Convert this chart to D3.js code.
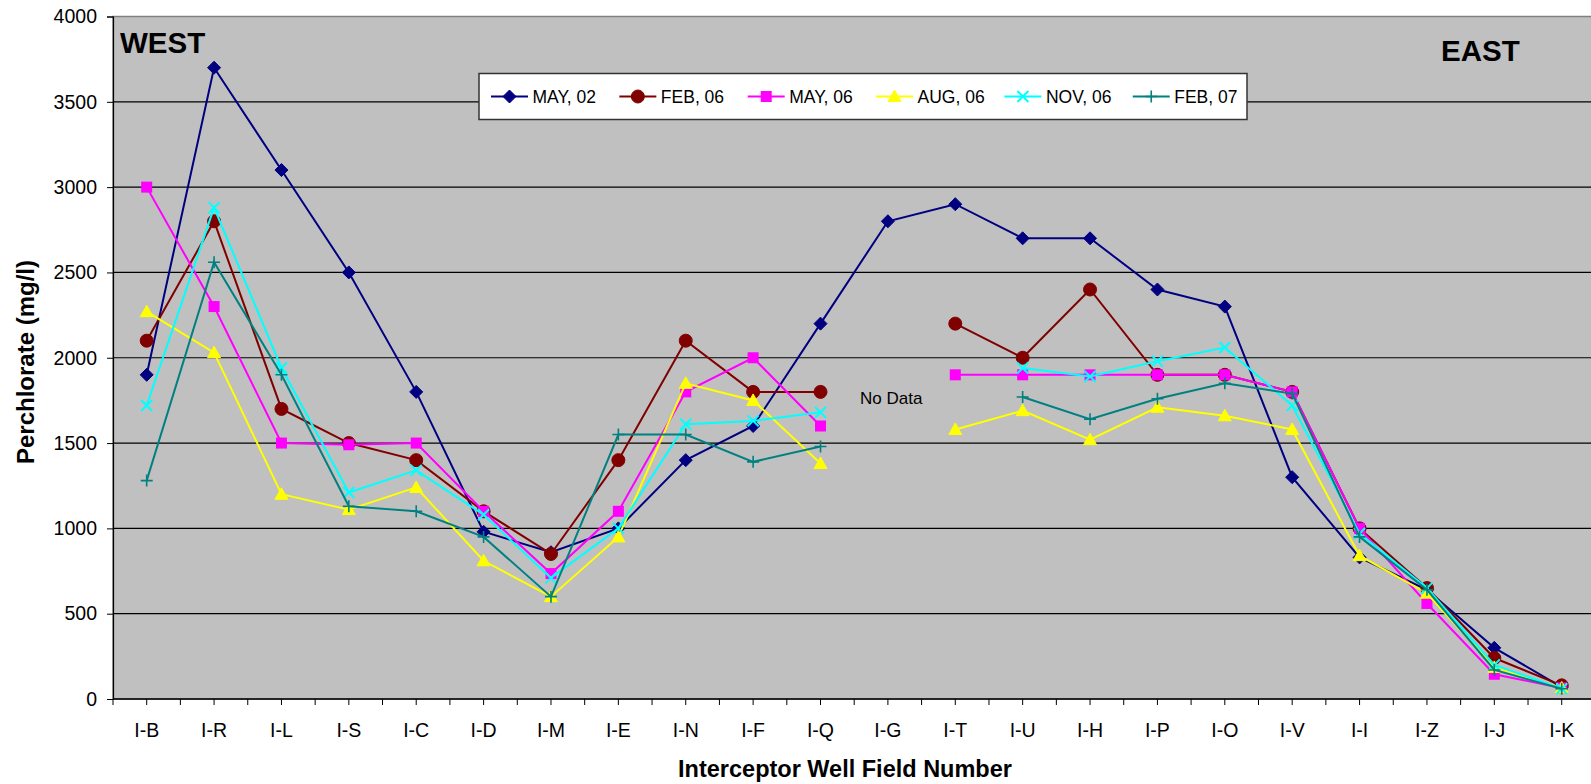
<!DOCTYPE html>
<html>
<head>
<meta charset="utf-8">
<title>Perchlorate by interceptor well field</title>
<script src="https://cdn.jsdelivr.net/npm/d3@7/dist/d3.min.js"></script>
<style>
	body { margin:0; background:#fff; }
	svg text { font-family: Arial, "Liberation Sans", sans-serif; }
</style>
</head>
<body>
<div id="div_Chart"></div>
<script>
//=======================================================================
// chart data (mg/l)
var a_categories = ["I-B","I-R","I-L","I-S","I-C","I-D","I-M","I-E","I-N","I-F","I-Q",
					"I-G","I-T","I-U","I-H","I-P","I-O","I-V","I-I","I-Z","I-J","I-K"];

var a_may02 = [1900,3700,3100,2500,1800, 980, 860,1000,1400,1600,2200,
			   2800,2900,2700,2700,2400,2300,1300, 830, 640, 300,  70];
var a_feb06 = [2100,2800,1700,1500,1400,1100, 850,1400,2100,1800,1800,
			   null,2200,2000,2400,1900,1900,1800,1000, 650, 240,  80];
var a_may06 = [3000,2300,1500,1490,1500,1100, 735,1100,1800,2000,1600,
			   null,1900,1900,1900,1900,1900,1800,1000, 560, 145,  65];
var a_aug06 = [2270,2030,1200,1110,1240, 810, 600, 950,1850,1750,1380,
			   null,1580,1690,1520,1710,1660,1580, 840, 620, 185,  65];
var a_nov06 = [1720,2880,1940,1210,1340,1080, 710,1000,1610,1630,1680,
			   null,null,1940,1890,1980,2060,1720, 970, 650, 200,  60];
var a_feb07 = [1280,2560,1900,1130,1100, 950, 600,1550,1550,1390,1480,
			   null,null,1770,1640,1760,1850,1790, 950, 640, 170,  60];

var a_seriesNames = ["MAY, 02","FEB, 06","MAY, 06","AUG, 06","NOV, 06","FEB, 07"];
var a_seriesData  = [a_may02, a_feb06, a_may06, a_aug06, a_nov06, a_feb07];
var a_yTicks = [0,500,1000,1500,2000,2500,3000,3500,4000];

//----------------------------------------------------------------------
// look of each series, same order as a_seriesNames
var a_style = [
	{color:"#000080", marker:"diamond"},
	{color:"#800000", marker:"circle"},
	{color:"#FF00FF", marker:"square"},
	{color:"#FFFF00", marker:"triangle"},
	{color:"#00FFFF", marker:"cross"},
	{color:"#008080", marker:"plus"}
];

var v_W = 1591, v_H = 784;
var v_Plot = {left:113, top:16.5, bottom:699, right:1595.4};

var v_Svg = d3.select("#div_Chart")
				.append("svg")
				.attr("width", v_W)
				.attr("height", v_H);

var x = d3.scaleBand()
			.domain(a_categories)
			.range([v_Plot.left, v_Plot.right])
			.padding(0);
var y = d3.scaleLinear()
			.domain([0,4000])
			.range([v_Plot.bottom, v_Plot.top]);

function f_cx(d){ return x(d) + x.bandwidth()/2; }

f_drawFrame();
f_drawSeries();
f_drawLegend();
f_drawLabels();

//----------------------------------------------------------------------
function f_drawFrame()
{
	v_Svg.append("rect")
			.attr("x", v_Plot.left)
			.attr("y", v_Plot.top)
			.attr("width", v_Plot.right - v_Plot.left)
			.attr("height", v_Plot.bottom - v_Plot.top)
			.attr("fill", "#C0C0C0")
			.attr("stroke", "#808080")
			.attr("stroke-width", 1.5);

	// horizontal grid
	v_Svg.append("g")
			.selectAll("line")
			.data(a_yTicks.filter(function(t){ return t > 0 && t < 4000; }))
			.enter()
				.append("line")
				.attr("x1", v_Plot.left)
				.attr("x2", v_Plot.right)
				.attr("y1", function(d){ return y(d); })
				.attr("y2", function(d){ return y(d); })
				.attr("stroke", "#000")
				.attr("stroke-width", 1.2);

	// y axis
	var gY = v_Svg.append("g")
				.attr("transform", "translate(" + v_Plot.left + ",0)")
				.call(d3.axisLeft(y).tickValues(a_yTicks).tickSize(6).tickPadding(10).tickFormat(d3.format("d")));
	gY.select(".domain").attr("stroke", "#000").attr("stroke-width", 1.2);
	gY.selectAll(".tick line").attr("stroke", "#000");
	gY.selectAll(".tick text")
		.attr("font-size", "19.5px")
		.attr("fill", "#000")
		.attr("font-family", "Arial, 'Liberation Sans', sans-serif");

	// x axis: ticks at category edges and centres, labels at centres
	var a_halfTicks = [];
	for (var i=0; i<a_categories.length; i++)
	{
		a_halfTicks.push(x(a_categories[i]));
		a_halfTicks.push(f_cx(a_categories[i]));
	}
	v_Svg.append("line")
			.attr("x1", v_Plot.left).attr("x2", v_Plot.right)
			.attr("y1", v_Plot.bottom).attr("y2", v_Plot.bottom)
			.attr("stroke", "#000")
			.attr("stroke-width", 1.5);
	v_Svg.append("g")
			.selectAll("line")
			.data(a_halfTicks)
			.enter()
				.append("line")
				.attr("x1", function(d){ return d; })
				.attr("x2", function(d){ return d; })
				.attr("y1", v_Plot.bottom)
				.attr("y2", v_Plot.bottom + 6)
				.attr("stroke", "#000");
	v_Svg.append("g")
			.selectAll("text")
			.data(a_categories)
			.enter()
				.append("text")
				.attr("x", function(d){ return f_cx(d); })
				.attr("y", 736.5)
				.attr("text-anchor", "middle")
				.attr("font-size", "19.5px")
				.text(function(d){ return d; });
}
//----------------------------------------------------------------------
function f_marker(arg_sel, arg_style)
{
	var c = arg_style.color;
	switch (arg_style.marker)
	{
		case "diamond":
			arg_sel.append("path").attr("d", "M0,-6.5L6.5,0L0,6.5L-6.5,0Z").attr("fill", c).attr("stroke", c);
			break;
		case "circle":
			arg_sel.append("circle").attr("r", 6.5).attr("fill", c).attr("stroke", c);
			break;
		case "square":
			arg_sel.append("rect").attr("x", -5.5).attr("y", -5.5).attr("width", 11).attr("height", 11).attr("fill", c);
			break;
		case "triangle":
			arg_sel.append("path").attr("d", "M0,-6.5L6.5,5L-6.5,5Z").attr("fill", c).attr("stroke", c);
			break;
		case "cross":
			arg_sel.append("path").attr("d", "M-5.5,-5.5L5.5,5.5M-5.5,5.5L5.5,-5.5").attr("stroke", c).attr("stroke-width", 2).attr("fill", "none");
			break;
		case "plus":
			arg_sel.append("path").attr("d", "M-6,0L6,0M0,-6L0,6").attr("stroke", c).attr("stroke-width", 1.6).attr("fill", "none");
			break;
	}
}
//----------------------------------------------------------------------
function f_drawSeries()
{
	var v_Line = d3.line()
					.defined(function(d){ return d.v !== null; })
					.x(function(d){ return f_cx(d.c); })
					.y(function(d){ return y(d.v); });

	for (var s=0; s<a_seriesData.length; s++)
	{
		var a_pts = a_seriesData[s].map(function(v,i){ return {c:a_categories[i], v:v}; });
		var g = v_Svg.append("g").attr("class", "series");

		g.append("path")
			.datum(a_pts)
			.attr("d", v_Line)
			.attr("fill", "none")
			.attr("stroke", a_style[s].color)
			.attr("stroke-width", 2);

		var gM = g.selectAll("g.mk")
					.data(a_pts.filter(function(d){ return d.v !== null; }))
					.enter()
						.append("g")
						.attr("class", "mk")
						.attr("transform", function(d){ return "translate(" + f_cx(d.c) + "," + y(d.v) + ")"; });
		f_marker(gM, a_style[s]);
	}
}
//----------------------------------------------------------------------
function f_drawLegend()
{
	var gL = v_Svg.append("g");
	gL.append("rect")
		.attr("x", 479)
		.attr("y", 73.5)
		.attr("width", 768)
		.attr("height", 46)
		.attr("fill", "#fff")
		.attr("stroke", "#333")
		.attr("stroke-width", 1.5);

	var v_Step = 128.35, v_X0 = 491, v_Y = 96.5;
	for (var s=0; s<a_seriesNames.length; s++)
	{
		var lx = v_X0 + s*v_Step;
		gL.append("line")
			.attr("x1", lx).attr("x2", lx + 37)
			.attr("y1", v_Y).attr("y2", v_Y)
			.attr("stroke", a_style[s].color)
			.attr("stroke-width", 2);
		var gM = gL.append("g").attr("transform", "translate(" + (lx + 18.5) + "," + v_Y + ")");
		f_marker(gM, a_style[s]);
		gL.append("text")
			.attr("x", lx + 41.5)
			.attr("y", v_Y + 6.3)
			.attr("font-size", "17.5px")
			.text(a_seriesNames[s]);
	}
}
//----------------------------------------------------------------------
function f_drawLabels()
{
	v_Svg.append("text")
			.attr("x", 120).attr("y", 53)
			.attr("font-size", "29.5px").attr("font-weight", "bold")
			.text("WEST");
	v_Svg.append("text")
			.attr("x", 1441).attr("y", 61)
			.attr("font-size", "29.5px").attr("font-weight", "bold")
			.text("EAST");
	v_Svg.append("text")
			.attr("x", 860).attr("y", 404)
			.attr("font-size", "17px")
			.text("No Data");

	v_Svg.append("text")
			.attr("x", 845).attr("y", 777)
			.attr("text-anchor", "middle")
			.attr("font-size", "23.5px").attr("font-weight", "bold")
			.text("Interceptor Well Field Number");
	v_Svg.append("text")
			.attr("transform", "translate(34,362) rotate(-90)")
			.attr("text-anchor", "middle")
			.attr("font-size", "24px").attr("font-weight", "bold")
			.text("Perchlorate (mg/l)");
}
//======================================================================
</script>
</body>
</html>
